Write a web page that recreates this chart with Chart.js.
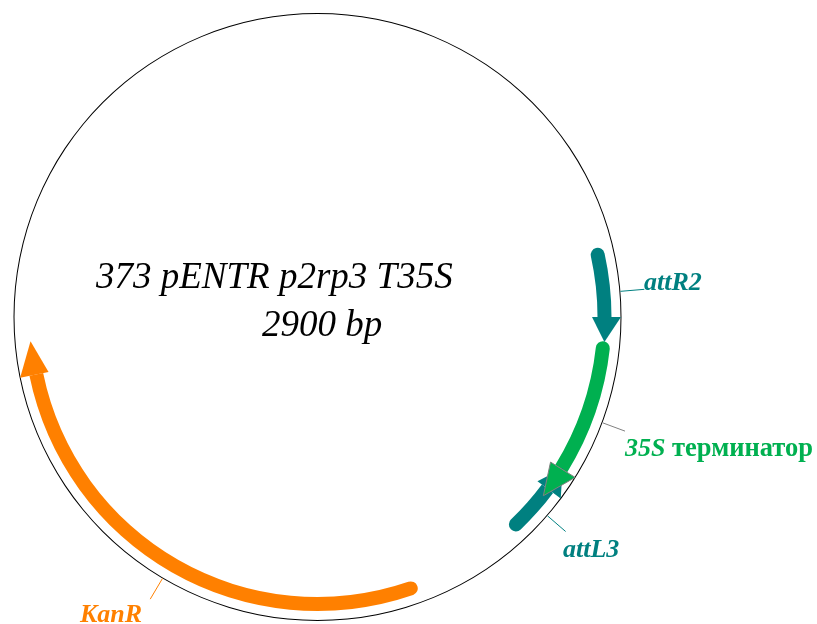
<!DOCTYPE html>
<html><head><meta charset="utf-8">
<style>html,body{margin:0;padding:0;background:#fff}#wrap{width:817px;height:624px;position:relative}canvas{display:block}</style>
<script src="https://cdn.jsdelivr.net/npm/chart.js@4"></script>
</head><body><div id="wrap"><canvas id="c"></canvas></div>
<script>
// Plasmid data, in base pairs
const plasmidLength = 2900;
const featureNames = ['attR2', '35S терминатор', 'attL3', 'KanR'];
const bodyFrom = [613, 764, 1021, 1286];
const bodyTo   = [725, 982, 1109, 2082];
const tipBp    = [765, 1034, 980, 2136];
const leaderBp = [686, 889, 1054, 1697];
const titleLines = ['373 pENTR p2rp3 T35S', '2900 bp'];

const featureColors = ['#008080', '#00B050', '#008080', '#FF8000'];
const leaderColors = ['#008080', '#808080', '#008080', '#FF8000'];
const headOutline = [null, '#808080', null, null];
const drawOrder = [0, 2, 1, 3];
const HEAD_OUT = 16.5, HEAD_IN = 12.5, LEADER = 24;

// Build the ring as alternating gaps and features
const segs = [], segColors = [], segRadius = [], featureSeg = [];
let pos = 0;
featureNames.forEach((_, i) => {
  const gap = bodyFrom[i] - pos;
  if (gap > 0) { segs.push(gap); segColors.push('rgba(0,0,0,0)'); segRadius.push(0); }
  featureSeg[i] = segs.length;
  segs.push(bodyTo[i] - bodyFrom[i]);
  segColors.push(featureColors[i]);
  const forward = tipBp[i] > bodyTo[i];
  segRadius.push(forward ? {outerStart: 7, innerStart: 7, outerEnd: 0, innerEnd: 0}
                         : {outerStart: 0, innerStart: 0, outerEnd: 7, innerEnd: 7});
  pos = bodyTo[i];
});
segs.push(plasmidLength - pos); segColors.push('rgba(0,0,0,0)'); segRadius.push(0);

const plasmidPlugin = {
  id: 'plasmid',
  afterDatasetsDraw(chart) {
    const ctx = chart.ctx;
    const arcs = chart.getDatasetMeta(2).data;
    const first = arcs[0];
    const cx = first.x, cy = first.y, R = chart.getDatasetMeta(0).data[0].outerRadius;
    const mid = (first.innerRadius + first.outerRadius) / 2;
    const rad = bp => -Math.PI / 2 + bp / plasmidLength * 2 * Math.PI;
    const pt = (a, r) => [cx + r * Math.cos(a), cy + r * Math.sin(a)];

    drawOrder.forEach(i => {
      const a = arcs[featureSeg[i]];
      const forward = tipBp[i] > bodyTo[i];
      const baseA = forward ? a.endAngle : a.startAngle;
      const tipA = rad(tipBp[i]);
      ctx.beginPath();
      ctx.moveTo(...pt(baseA, mid + HEAD_OUT));
      ctx.lineTo(...pt(tipA, mid + 1));
      ctx.lineTo(...pt(baseA, mid - HEAD_IN));
      ctx.closePath();
      ctx.fillStyle = featureColors[i];
      ctx.fill();
      if (headOutline[i]) { ctx.lineWidth = 1; ctx.strokeStyle = headOutline[i]; ctx.stroke(); }
    });

    featureNames.forEach((_, i) => {
      const b = rad(leaderBp[i]);
      ctx.beginPath();
      ctx.moveTo(...pt(b, R));
      ctx.lineTo(...pt(b, R + LEADER));
      ctx.lineWidth = 1;
      ctx.strokeStyle = leaderColors[i];
      ctx.stroke();
    });

    ctx.textBaseline = 'alphabetic';
    ctx.textAlign = 'left';
    const serif = '"Liberation Serif"';
    const text = (s, x, y, font, color) => {
      ctx.font = font + ' ' + serif; ctx.fillStyle = color; ctx.fillText(s, x, y);
      return ctx.measureText(s).width;
    };
    text(titleLines[0], 96, 288, 'italic 37px', '#000');
    text(titleLines[1], 262, 336, 'italic 37px', '#000');
    const bi = 'italic bold 26px', b = 'bold 26.5px';
    text(featureNames[0], 644, 290, bi, featureColors[0]);
    const parts = featureNames[1].split(' ');
    const w = text(parts[0], 625, 456, bi, featureColors[1]);
    text(' ' + parts[1], 625 + w, 456, b, featureColors[1]);
    text(featureNames[2], 563, 557, bi, featureColors[2]);
    text(featureNames[3], 80, 622, bi, featureColors[3]);
  }
};

new Chart(document.getElementById('c'), {
  type: 'doughnut',
  data: {
    labels: segs.map((_, i) => 'segment ' + i),
    datasets: [
      {label: 'backbone', data: [plasmidLength], backgroundColor: '#000', borderWidth: 0, weight: 1},
      {label: 'spacer', data: [plasmidLength], backgroundColor: 'rgba(0,0,0,0)', borderWidth: 0, weight: 9},
      {label: 'features', data: segs, backgroundColor: segColors, borderRadius: segRadius, borderWidth: 0, weight: 14}
    ]
  },
  options: {
    responsive: true, maintainAspectRatio: false, animation: false,
    cutout: 280,
    layout: {padding: {left: 13.5, right: 195.5, top: 13, bottom: 3}},
    plugins: {legend: {display: false}, tooltip: {enabled: false}, title: {display: false}}
  },
  plugins: [plasmidPlugin]
});
</script></body></html>
